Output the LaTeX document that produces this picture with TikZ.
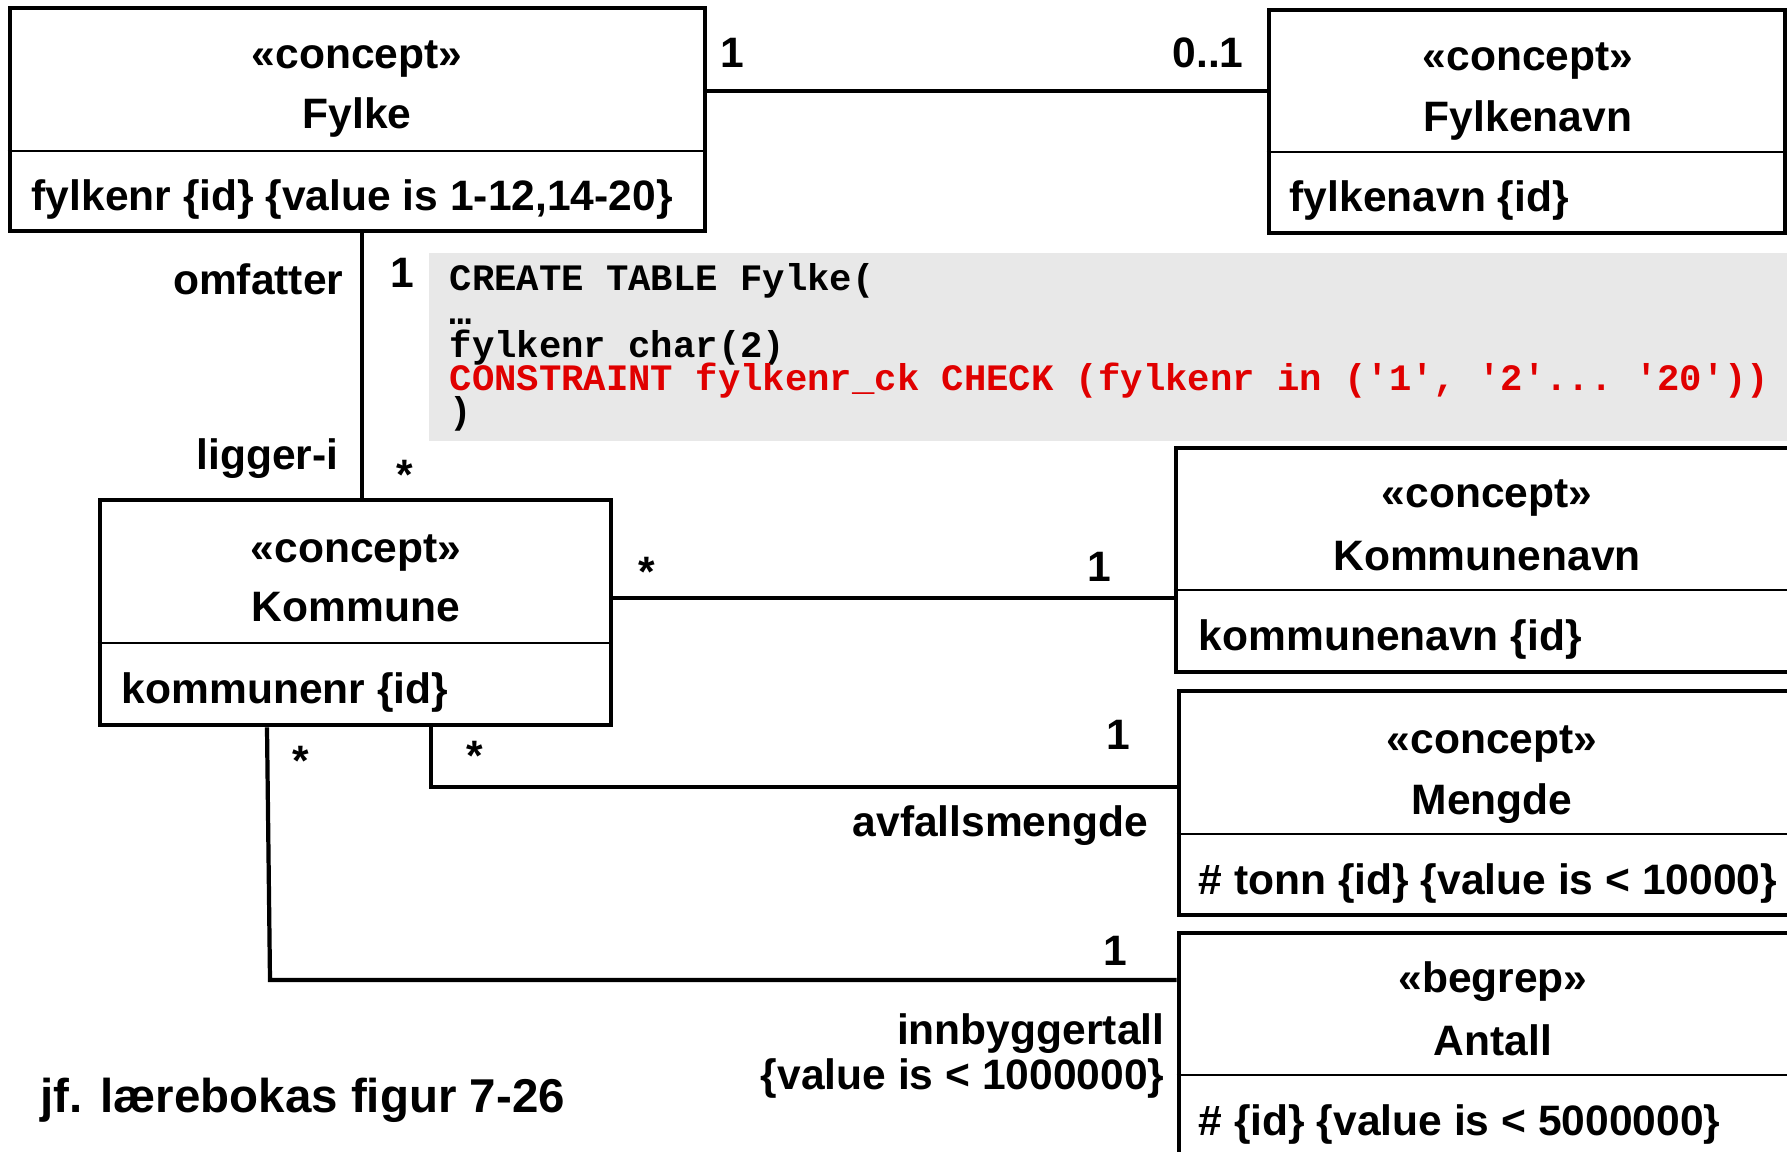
\documentclass[tikz,border=0pt]{standalone}
\usepackage{fontspec}
\setmainfont{Liberation Sans}
\setmonofont{Liberation Mono}
\usetikzlibrary{fit}
\definecolor{sqlred}{RGB}{224,0,0}
\definecolor{sqlgray}{RGB}{232,232,232}
\newcommand{\sqlfont}{\ttfamily\bfseries\fontsize{10.6}{9.47}\selectfont\setlength{\lineskiplimit}{-20pt}}

\begin{document}
\begin{tikzpicture}[
        x=0.01cm, y=-0.01cm,
        % class boxes and their compartments
        concept/.style={draw, line width=1.4pt, inner sep=0pt},
        divider/.style={line width=0.7pt},
        assoc/.style={line width=1.2pt},
        % texts
        title/.style={font=\bfseries\fontsize{12.1}{14}\selectfont, inner sep=0pt},
        attr/.style={title, anchor=west},
        mult/.style={title},
        role/.style={title, anchor=east},
        code/.style={font=\sqlfont, align=left, inner sep=0pt, anchor=north west},
    ]
    \useasboundingbox (0,0) rectangle (1787,1152);

    % SQL snippet behind everything
    \fill [sqlgray] (429,253) rectangle (1800,441);
    \node [code] (sql) at (449,263) {CREATE TABLE Fylke(\\
        …\\
        fylkenr char(2)\\
        \textcolor{sqlred}{CONSTRAINT fylkenr\_ck CHECK (fylkenr in ('1', '2'... '20'))}\\
        )};

    % boxes
    \node [concept, fit={(10,8) (705,231)}] (fylke) {};
    \node [concept, fit={(1269,10) (1785,233)}] (fylkenavn) {};
    \node [concept, fit={(100,500) (611,725)}] (kommune) {};
    \node [concept, fit={(1176,448) (1800,672)}] (kommunenavn) {};
    \node [concept, fit={(1179,691) (1805,915)}] (mengde) {};
    \node [concept, fit={(1179,933) (1805,1170)}] (antall) {};

    \draw [divider] (fylke.west |- 0,151) -- (fylke.east |- 0,151);
    \draw [divider] (fylkenavn.west |- 0,152) -- (fylkenavn.east |- 0,152);
    \draw [divider] (kommune.west |- 0,643) -- (kommune.east |- 0,643);
    \draw [divider] (kommunenavn.west |- 0,590) -- (kommunenavn.east |- 0,590);
    \draw [divider] (mengde.west |- 0,834) -- (mengde.east |- 0,834);
    \draw [divider] (antall.west |- 0,1075) -- (antall.east |- 0,1075);

    \node [title] (fylke-st) at (357,59) {«concept»};
    \node [title] (fylke-name) at (357,118) {Fylke};
    \node [attr] (fylke-attr) at (31,200) {fylkenr \{id\} \{value is 1-12,14-20\}};

    \node [title] (fylkenavn-st) at (1528,61) {«concept»};
    \node [title] (fylkenavn-name) at (1528,121) {Fylkenavn};
    \node [attr] (fylkenavn-attr) at (1289,201) {fylkenavn \{id\}};

    \node [title] (kommune-st) at (356,553) {«concept»};
    \node [title] (kommune-name) at (356,607) {Kommune};
    \node [attr] (kommune-attr) at (121,693) {kommunenr \{id\}};

    \node [title] (kommunenavn-st) at (1487,498) {«concept»};
    \node [title] (kommunenavn-name) at (1487,556) {Kommunenavn};
    \node [attr] (kommunenavn-attr) at (1198,640) {kommunenavn \{id\}};

    \node [title] (mengde-st) at (1492,744) {«concept»};
    \node [title] (mengde-name) at (1492,804) {Mengde};
    \node [attr] (mengde-attr) at (1198,883) {\# tonn \{id\} \{value is < 10000\}};

    \node [title] (antall-st) at (1493,982) {«begrep»};
    \node [title] (antall-name) at (1493,1040) {Antall};
    \node [attr] (antall-attr) at (1198,1124) {\# \{id\} \{value is < 5000000\}};

    % associations
    \draw [assoc] (fylke.east |- 0,91) -- (fylkenavn.west |- 0,91);
    \draw [assoc] (fylke.south -| 362,0) -- (kommune.north -| 362,0);
    \draw [assoc] (kommune.east |- 0,598) -- (kommunenavn.west |- 0,598);
    \draw [assoc] (kommune.south -| 431,0) |- (mengde.west |- 0,787);
    \draw [assoc] (kommune.south -| 267,0) -- (270,980) -- (antall.west |- 0,980);

    % multiplicities and roles
    \node [mult] (m-fylke) at (732,53) {1};
    \node [mult] (m-fylkenavn) at (1208,53) {0..1};
    \node [mult] (m-omfatter) at (402,273) {1};
    \node [mult] (m-ligger) at (405,475) {*};
    \node [role] (omfatter) at (344,279) {omfatter};
    \node [role] (ligger) at (339,459) {ligger-i};
    \node [mult] (m-kommune1) at (647,572) {*};
    \node [mult] (m-kommunenavn) at (1099,567) {1};
    \node [mult] (m-kommune2) at (475,756) {*};
    \node [mult] (m-mengde) at (1118,735) {1};
    \node [role] (avfall) at (1149,826) {avfallsmengde};
    \node [mult] (m-kommune3) at (301,761) {*};
    \node [mult] (m-antall) at (1115,951) {1};
    \node [role, align=right, font=\bfseries\fontsize{12.1}{13}\selectfont] (innbygger) at (1165,1056) {innbyggertall\\\{value is < 1000000\}};

    \node [title, anchor=west, font=\bfseries\fontsize{13.5}{16}\selectfont] (ref) at (40,1100) {jf. lærebokas figur 7-26};
\end{tikzpicture}
\end{document}
